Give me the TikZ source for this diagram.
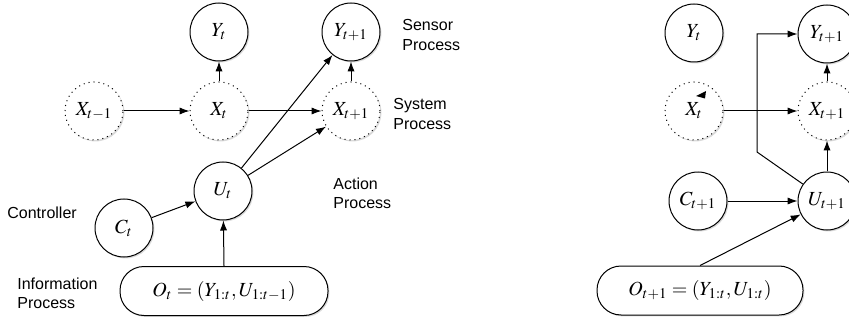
\documentclass[tikz,border=0pt]{standalone}
\usepackage{mathptmx}
\usepackage{fontspec}
\setsansfont{Liberation Sans}
\usetikzlibrary{arrows.meta,shadows}
\begin{document}
\begin{tikzpicture}[x=0.5pt,y=-0.5pt,
  every node/.style={inner sep=0pt},
  shad/.style={drop shadow={opacity=0.3, shadow xshift=0.7pt, shadow yshift=-0.7pt}},
  var/.style={circle, draw, line width=0.5pt, fill=white, minimum size=29pt, shad},
  hid/.style={var, dotted},
  obs/.style={draw, line width=0.5pt, fill=white, rounded corners=12pt, minimum height=24.5pt, shad},
  arr/.style={line width=0.5pt, -{Latex[length=5pt,width=3.6pt]}},
  lab/.style={font=\sffamily\fontsize{8}{9.6}\selectfont, align=left, anchor=west}
]
\useasboundingbox (0,0) rectangle (849,320);
% left diagram
\node[var] (Yt) at (219,32) {$Y_t$};
\node[var] (Yt1) at (351,32) {$Y_{t+1}$};
\node[hid] (Xtm) at (94,111) {$X_{t-1}$};
\node[hid] (Xt) at (219,111) {$X_t$};
\node[hid] (Xt1) at (351,111) {$X_{t+1}$};
\node[var] (Ut) at (223,191) {$U_t$};
\node[var] (Ct) at (124,228) {$C_t$};
\node[obs, minimum width=104pt] (Ot) at (224,291) {$O_t=(Y_{1:t},U_{1:t-1})$};
\node[lab] (lsen) at (402,35) {Sensor\\Process};
\node[lab] (lsys) at (393,114) {System\\Process};
\node[lab] (lact) at (333,193) {Action\\Process};
\node[lab] (lcon) at (7,213) {Controller};
\node[lab] (linf) at (17,293) {Information\\Process};
\draw[arr] (Xtm) -- (Xt);
\draw[arr] (Xt) -- (Xt1);
\draw[arr] (Xt) -- (Yt);
\draw[arr] (Xt1) -- (Yt1);
\draw[arr] (Ut) -- (Yt1);
\draw[arr] (Ut) -- (Xt1);
\draw[arr] (Ct) -- (Ut);
\draw[arr] (Ot.north) -- (Ut);
% right diagram
\node[var] (rYt) at (694,33) {$Y_t$};
\node[hid] (rXt) at (694,111) {$X_t$};
\node[var] (rCt) at (698,201) {$C_{t+1}$};
\node[var] (rYt1) at (827,34) {$Y_{t+1}$};
\node[hid] (rXt1) at (827,111) {$X_{t+1}$};
\node[var] (rUt1) at (827,201) {$U_{t+1}$};
\node[obs, minimum width=103pt] (rOt) at (700,290.5) {$O_{t+1}=(Y_{1:t},U_{1:t})$};
\coordinate (bend) at (757,152);
\draw[arr] (rXt) -- (rXt1);
\draw[arr] (rCt) -- (rUt1);
\draw[arr] (rOt.north) -- (rUt1.207);
\draw[arr] (rUt1) -- (rXt1);
\draw[arr] (rXt1) -- (rYt1);
\draw[arr] (rUt1.145) -- (bend) |- (rYt1);
\fill (696,96) -- (706,91) -- (705,98.5) -- cycle;
\end{tikzpicture}
\end{document}
